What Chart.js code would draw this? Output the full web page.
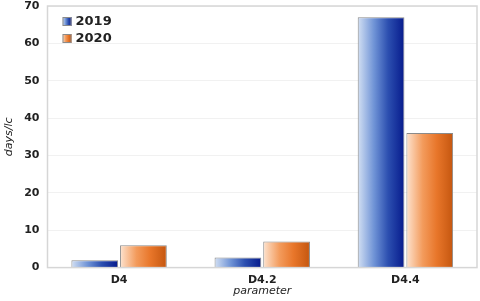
<!DOCTYPE html>
<html>
<head>
    <meta charset="utf-8">
    <title>days/lc by parameter</title>
    <script src="https://cdn.jsdelivr.net/npm/chart.js"></script>
    <style>
        html, body { margin: 0; padding: 0; background: #fff; }
        #wrap { width: 480px; height: 301px; }
    </style>
</head>
<body>
    <div id="wrap"><canvas id="barChart"></canvas></div>

    <script>
        const categories = ["D4", "D4.2", "D4.4"];
        const seriesNames = ["2019", "2020"];
        const values2019 = [2, 2.7, 67];
        const values2020 = [6, 7, 36];
        const yTicks = [0, 10, 20, 30, 40, 50, 60, 70];

        const CAT_PCT = 0.68;
        const BAR_PCT = 0.96;

        const blueStops = ["#d3e0f3", "#6f93d6", "#2c4fb0", "#061a8c"];
        const orangeStops = ["#fde3cf", "#f39b5c", "#e8762a", "#c4560f"];
        const FAMILY = "'DejaVu Sans', Verdana, sans-serif";

        function makeGrad(ctx, x0, x1, stops) {
            const g = ctx.createLinearGradient(x0, 0, x1, 0);
            g.addColorStop(0, stops[0]);
            g.addColorStop(0.35, stops[1]);
            g.addColorStop(0.65, stops[2]);
            g.addColorStop(1, stops[3]);
            return g;
        }

        function barFill(stops) {
            return (c) => {
                const chart = c.chart;
                const xs = chart.scales && chart.scales.x;
                if (!xs || !chart.chartArea || c.dataIndex === undefined) return stops[2];
                const center = xs.getPixelForValue(c.dataIndex);
                const catW = (xs.width / categories.length) * CAT_PCT;
                const slot = catW / 2;
                const barW = slot * BAR_PCT;
                const left = center - catW / 2 + c.datasetIndex * slot + (slot - barW) / 2;
                return makeGrad(chart.ctx, left, left + barW, stops);
            };
        }

        // frame round the plot area, plus the legend inside it
        const plotFrame = {
            id: "plotFrame",
            afterDraw(chart) {
                const a = chart.chartArea;
                const ctx = chart.ctx;
                ctx.save();
                ctx.strokeStyle = "#d6d6d6";
                ctx.lineWidth = 1.5;
                ctx.strokeRect(a.left, a.top, a.right - a.left, a.bottom - a.top);

                const stops = [blueStops, orangeStops];
                ctx.font = "bold 13px " + FAMILY;
                ctx.textBaseline = "middle";
                seriesNames.forEach((name, i) => {
                    const bx = a.left + 15, by = a.top + 11 + i * 17;
                    ctx.fillStyle = makeGrad(ctx, bx, bx + 9, stops[i]);
                    ctx.fillRect(bx, by, 9, 9);
                    ctx.strokeStyle = "#8a8a8a";
                    ctx.lineWidth = 1;
                    ctx.strokeRect(bx + 0.5, by + 0.5, 8, 8);
                    ctx.fillStyle = "#222";
                    ctx.fillText(name, bx + 13, by + 5);
                });
                ctx.restore();
            }
        };

        const font = { family: FAMILY, size: 11, weight: "bold" };
        const titleFont = { family: FAMILY, size: 11, weight: "normal", style: "italic" };

        new Chart(document.getElementById("barChart"), {
            type: "bar",
            data: {
                labels: categories,
                datasets: [{
                    label: seriesNames[0],
                    data: values2019,
                    backgroundColor: barFill(blueStops),
                    borderColor: "#8a8a8a",
                    borderWidth: 1,
                    categoryPercentage: CAT_PCT,
                    barPercentage: BAR_PCT
                }, {
                    label: seriesNames[1],
                    data: values2020,
                    backgroundColor: barFill(orangeStops),
                    borderColor: "#8a8a8a",
                    borderWidth: 1,
                    categoryPercentage: CAT_PCT,
                    barPercentage: BAR_PCT
                }]
            },
            options: {
                responsive: true,
                maintainAspectRatio: false,
                animation: false,
                layout: { padding: { top: 6, right: 3, left: 3, bottom: 3 } },
                plugins: {
                    tooltip: { enabled: false },
                    legend: { display: false }
                },
                scales: {
                    x: {
                        grid: { display: false },
                        border: { display: false },
                        ticks: { color: "#222", font: font, padding: -2 },
                        title: {
                            display: true,
                            text: "parameter",
                            color: "#222",
                            padding: { top: 0, bottom: 0 },
                            font: titleFont
                        }
                    },
                    y: {
                        min: 0,
                        max: 70,
                        afterBuildTicks(axis) {
                            axis.ticks = yTicks.map(v => ({ value: v }));
                        },
                        afterFit(axis) {
                            axis.paddingTop = 0;
                        },
                        grid: { color: "#f1f1f1", drawTicks: false },
                        border: { display: false },
                        ticks: { color: "#222", font: font, padding: 8 },
                        title: {
                            display: true,
                            text: "days/lc",
                            color: "#222",
                            padding: { top: 0, bottom: 0 },
                            font: titleFont
                        }
                    }
                }
            },
            plugins: [plotFrame]
        });
    </script>
</body>
</html>
